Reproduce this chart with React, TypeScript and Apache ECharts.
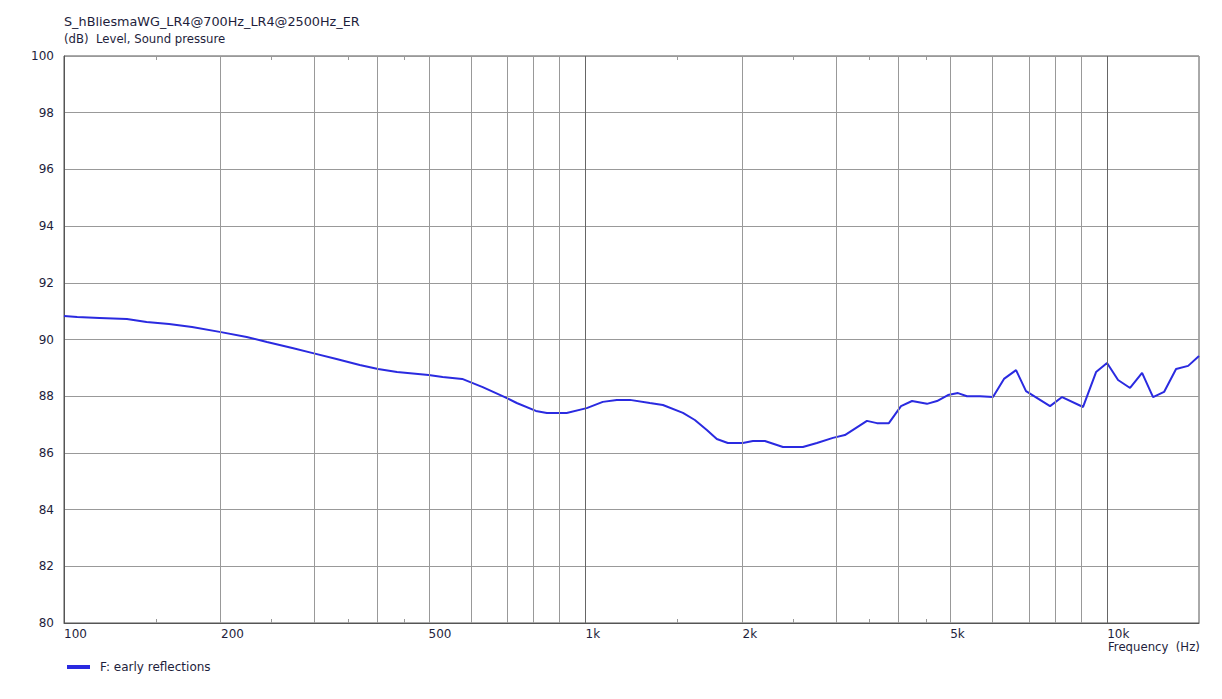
import React, { useEffect, useRef } from "react";
import * as echarts from "echarts";

const TITLE = "S_hBliesmaWG_LR4@700Hz_LR4@2500Hz_ER";
const SUBTITLE = "(dB)  Level, Sound pressure";
const X_NAME = "Frequency  (Hz)";
const SERIES_NAME = "F: early reflections";

const FREQ = [100, 106, 117, 132, 144, 159, 176, 200, 224, 245, 274, 300, 333, 369, 400, 435, 500, 532, 580, 635, 700, 738, 803, 843, 920, 1005, 1079, 1148, 1216, 1328, 1407, 1537, 1620, 1708, 1785, 1874, 2002, 2093, 2207, 2390, 2610, 2777, 2980, 3142, 3463, 3619, 3815, 4025, 4226, 4514, 4718, 4952, 5176, 5386, 5704, 6041, 6341, 6689, 6989, 7772, 8196, 8991, 9522, 9995, 10493, 11064, 11667, 12246, 12856, 13556, 14299, 15000];
const LEVEL = [90.83, 90.79, 90.76, 90.72, 90.62, 90.55, 90.44, 90.26, 90.09, 89.91, 89.7, 89.52, 89.31, 89.1, 88.96, 88.85, 88.75, 88.68, 88.61, 88.32, 87.97, 87.76, 87.48, 87.41, 87.41, 87.58, 87.8, 87.87, 87.87, 87.76, 87.69, 87.41, 87.16, 86.81, 86.49, 86.35, 86.35, 86.42, 86.42, 86.21, 86.21, 86.35, 86.53, 86.63, 87.13, 87.05, 87.05, 87.65, 87.83, 87.73, 87.83, 88.04, 88.11, 88.0, 88.0, 87.97, 88.61, 88.92, 88.18, 87.65, 87.97, 87.62, 88.85, 89.17, 88.57, 88.29, 88.82, 87.97, 88.15, 88.96, 89.07, 89.42];

const GRID_FREQS = [200, 300, 400, 500, 600, 700, 800, 900, 1000, 2000, 3000, 4000, 5000, 6000, 7000, 8000, 9000, 10000];
const DECADE_FREQS = [1000, 10000];
const X_LABELS = [100, 200, 500, 1000, 2000, 5000, 10000];
const MINOR_TICKS = [150, 250, 350, 450, 1500, 2500, 3500, 4500];
const F_MIN = 100;
const F_MAX = 15000;
const Y_MIN = 80;
const Y_MAX = 100;
const Y_STEP = 2;

const FONT = "DejaVu Sans";
const TEXT_COLOR = "#1e1e3c";
const LINE_COLOR = "#2a2ae0";

export default function App() {
  const ref = useRef<HTMLDivElement>(null);
  useEffect(() => {
    if (!ref.current) return;
    const chart = echarts.init(ref.current, null, { renderer: "svg" });
    const lg = (f: number) => Math.log10(f);
    const fmt = (v: number) => {
      const f = Math.round(Math.pow(10, v));
      return f >= 1000 ? f / 1000 + "k" : String(f);
    };
    const tickAxis = (pos: "bottom" | "top", labels: boolean) => ({
      type: "value",
      position: pos,
      min: lg(F_MIN),
      max: lg(F_MAX),
      splitLine: { show: false },
      axisLine: { show: pos === "bottom", lineStyle: { color: "#555", width: 1 } },
      axisTick: {
        show: true,
        inside: true,
        length: 4,
        customValues: MINOR_TICKS.map(lg),
        lineStyle: { color: "#999" },
      },
      axisLabel: labels
        ? {
            show: true,
            customValues: X_LABELS.map(lg),
            formatter: fmt,
            align: "left",
            margin: 5,
            color: TEXT_COLOR,
            fontFamily: FONT,
            fontSize: 12,
          }
        : { show: false },
    });
    chart.setOption({
      animation: false,
      backgroundColor: "#fff",
      textStyle: { fontFamily: FONT },
      grid: {
        left: 64,
        right: 23,
        top: 56,
        bottom: 76,
        show: true,
        borderColor: "#555",
        borderWidth: 1,
        backgroundColor: "transparent",
      },
      xAxis: [tickAxis("bottom", true), tickAxis("top", false)],
      yAxis: {
        type: "value",
        min: Y_MIN,
        max: Y_MAX,
        interval: Y_STEP,
        axisLine: { show: true, lineStyle: { color: "#555" } },
        axisTick: { show: false },
        splitLine: { show: true, lineStyle: { color: "#999", width: 1 } },
        axisLabel: { color: TEXT_COLOR, fontFamily: FONT, fontSize: 12, margin: 10 },
      },
      legend: {
        left: 62,
        top: 656,
        icon: "rect",
        itemWidth: 23,
        itemHeight: 4,
        data: [SERIES_NAME],
        textStyle: { color: TEXT_COLOR, fontFamily: FONT, fontSize: 12, padding: [0, 0, 0, 5] },
      },
      graphic: [
        { type: "text", left: 64, top: 15, style: { text: TITLE, fill: TEXT_COLOR, font: `12.8px "${FONT}"` } },
        { type: "text", left: 64, top: 33, style: { text: SUBTITLE, fill: TEXT_COLOR, font: `11.7px "${FONT}"` } },
        { type: "text", left: 1108, top: 641, style: { text: X_NAME, fill: TEXT_COLOR, font: `11.7px "${FONT}"` } },
      ],
      series: [
        {
          type: "line",
          name: "grid",
          data: [],
          z: 1,
          silent: true,
          markLine: {
            silent: true,
            symbol: "none",
            label: { show: false },
            animation: false,
            data: GRID_FREQS.map((f) => ({
              xAxis: lg(f),
              lineStyle: {
                color: DECADE_FREQS.includes(f) ? "#666" : "#999",
                width: 1,
                type: "solid",
              },
            })),
          },
        },
        {
          type: "line",
          name: SERIES_NAME,
          z: 3,
          data: FREQ.map((f, i) => [lg(f), LEVEL[i]]),
          showSymbol: false,
          symbol: "none",
          smooth: false,
          color: LINE_COLOR,
          lineStyle: { color: LINE_COLOR, width: 2 },
        },
      ],
    });
    return () => chart.dispose();
  }, []);
  return (
    <div
      ref={ref}
      style={{ position: "fixed", left: 0, top: 0, width: 1222, height: 699, background: "#fff" }}
    />
  );
}
